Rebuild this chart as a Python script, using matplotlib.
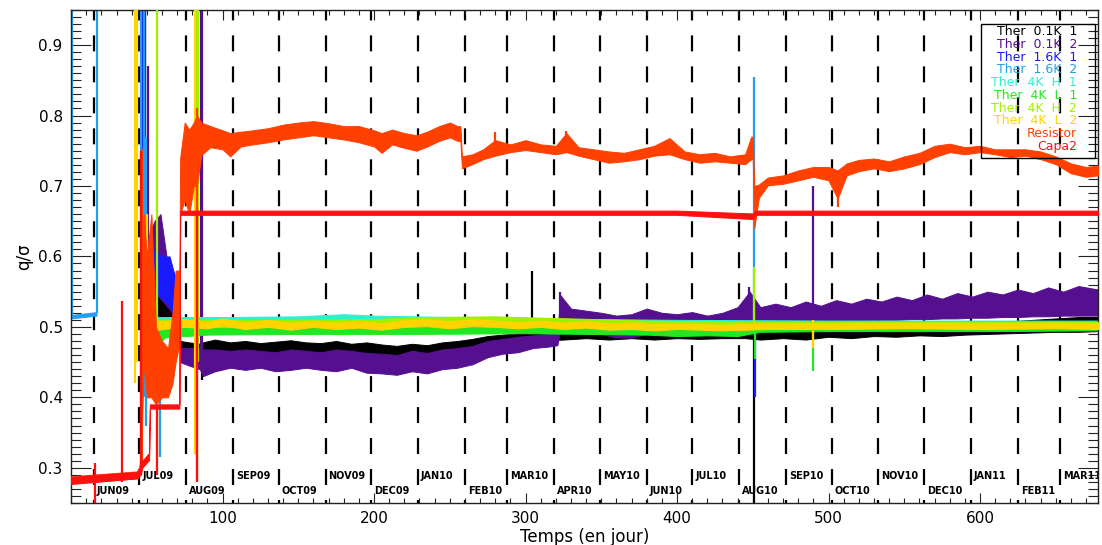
import matplotlib
matplotlib.use('Agg')
import matplotlib.pyplot as plt
from matplotlib.ticker import MultipleLocator
from matplotlib.patches import Rectangle

plt.rcParams['lines.scale_dashes'] = False

# ---------------------------------------------------------------
# data (day, lower edge, upper edge of the noise band)
# ---------------------------------------------------------------
BLACK_DAYS = [47, 50, 55, 60, 65, 70, 71.5, 72, 78, 85, 87, 95, 105, 115, 125, 135, 145, 155, 165, 175, 185, 195,
              205, 215, 225, 235, 245, 255, 265, 275, 285, 295, 305, 315, 325, 340, 355, 370, 385, 400, 415, 430,
              445, 455, 470, 485, 500, 515, 530, 545, 560, 575, 590, 605, 620, 635, 650, 665, 678]
BLACK_LO = [0.50, 0.50, 0.51, 0.50, 0.50, 0.50, 0.50, 0.46, 0.465, 0.462, 0.445, 0.455, 0.458, 0.455, 0.458, 0.453,
            0.458, 0.456, 0.453, 0.458, 0.455, 0.453, 0.451, 0.453, 0.455, 0.458, 0.461, 0.463, 0.466, 0.470, 0.473,
            0.477, 0.479, 0.481, 0.482, 0.484, 0.482, 0.484, 0.482, 0.484, 0.483, 0.484, 0.484, 0.482, 0.484, 0.482,
            0.486, 0.484, 0.487, 0.486, 0.488, 0.487, 0.489, 0.490, 0.491, 0.492, 0.493, 0.493, 0.494]
BLACK_HI = [0.56, 0.56, 0.58, 0.55, 0.56, 0.53, 0.53, 0.48, 0.478, 0.476, 0.478, 0.482, 0.478, 0.480, 0.477, 0.479,
            0.481, 0.478, 0.477, 0.480, 0.476, 0.478, 0.475, 0.473, 0.476, 0.474, 0.478, 0.480, 0.483, 0.487, 0.489,
            0.491, 0.493, 0.494, 0.495, 0.494, 0.495, 0.495, 0.494, 0.495, 0.494, 0.495, 0.496, 0.496, 0.497, 0.497,
            0.498, 0.498, 0.500, 0.500, 0.501, 0.503, 0.505, 0.507, 0.508, 0.510, 0.512, 0.514, 0.514]

PURPLE_DAYS = [50, 55, 59, 63, 67, 71, 71.5, 72, 78, 85, 87, 95, 105, 115, 125, 135, 145, 155, 165, 175, 185, 195,
               205, 215, 225, 235, 245, 255, 265, 275, 285, 295, 305, 315, 321, 323, 330, 340, 350, 360, 370, 380,
               390, 400, 410, 420, 430, 440, 448, 455, 465, 475, 485, 495, 505, 515, 525, 535, 545, 555, 565, 575,
               585, 595, 605, 615, 625, 635, 645, 655, 665, 678]
PURPLE_LO = [0.54, 0.55, 0.54, 0.53, 0.52, 0.50, 0.50, 0.45, 0.445, 0.44, 0.43, 0.437, 0.442, 0.439, 0.442, 0.437,
             0.439, 0.442, 0.439, 0.437, 0.442, 0.435, 0.434, 0.432, 0.437, 0.434, 0.440, 0.442, 0.447, 0.457, 0.462,
             0.464, 0.470, 0.472, 0.474, 0.50, 0.50, 0.495, 0.49, 0.485, 0.485, 0.49, 0.49, 0.49, 0.49, 0.49, 0.49,
             0.492, 0.495, 0.505, 0.508, 0.508, 0.508, 0.508, 0.508, 0.509, 0.509, 0.510, 0.510, 0.511, 0.511,
             0.512, 0.512, 0.513, 0.513, 0.514, 0.514, 0.515, 0.515, 0.516, 0.516, 0.516]
PURPLE_HI = [0.62, 0.65, 0.66, 0.60, 0.58, 0.56, 0.56, 0.47, 0.47, 0.47, 0.468, 0.468, 0.466, 0.468, 0.466, 0.464,
             0.468, 0.466, 0.464, 0.468, 0.466, 0.463, 0.462, 0.460, 0.466, 0.463, 0.468, 0.470, 0.473, 0.480, 0.483,
             0.486, 0.488, 0.490, 0.492, 0.545, 0.526, 0.523, 0.520, 0.516, 0.518, 0.526, 0.520, 0.518, 0.521, 0.516,
             0.520, 0.528, 0.55, 0.528, 0.533, 0.528, 0.536, 0.530, 0.538, 0.533, 0.540, 0.536, 0.543, 0.538, 0.546,
             0.540, 0.548, 0.543, 0.550, 0.546, 0.553, 0.548, 0.556, 0.550, 0.558, 0.553]

BLUE_DAYS = [50, 55, 60, 65, 70, 72, 100, 200, 300, 400, 500, 600, 678]
BLUE_LO = [0.53, 0.55, 0.54, 0.53, 0.50, 0.500, 0.501, 0.501, 0.501, 0.500, 0.500, 0.500, 0.500]
BLUE_HI = [0.61, 0.61, 0.60, 0.60, 0.56, 0.510, 0.509, 0.509, 0.508, 0.507, 0.507, 0.507, 0.507]

LBLUE_DAYS = [0, 16.8, 16.9, 45.9, 46, 50, 60, 100, 200, 300, 400, 500, 600, 678]
LBLUE_LO = [0.512, 0.516, 0.99, 0.99, 0.49, 0.49, 0.497, 0.500, 0.500, 0.500, 0.499, 0.499, 0.499, 0.499]
LBLUE_HI = [0.517, 0.521, 1.00, 1.00, 0.51, 0.51, 0.508, 0.509, 0.509, 0.507, 0.506, 0.506, 0.506, 0.506]

CYAN_DAYS = [48, 60, 100, 150, 180, 200, 250, 300, 400, 500, 600, 678]
CYAN_LO = [0.495, 0.503, 0.504, 0.505, 0.507, 0.505, 0.504, 0.503, 0.503, 0.503, 0.503, 0.503]
CYAN_HI = [0.515, 0.514, 0.514, 0.515, 0.518, 0.516, 0.514, 0.512, 0.510, 0.509, 0.509, 0.509]

GREEN_DAYS = [48, 52, 58, 62, 90, 150, 230, 300, 380, 400, 420, 440, 455, 500, 600, 678]
GREEN_LO = [0.48, 0.475, 0.476, 0.485, 0.489, 0.490, 0.490, 0.491, 0.489, 0.487, 0.488, 0.487, 0.493, 0.494, 0.494, 0.495]
GREEN_HI = [0.50, 0.49, 0.492, 0.500, 0.500, 0.500, 0.500, 0.500, 0.498, 0.496, 0.497, 0.496, 0.501, 0.501, 0.501, 0.502]

YGREEN_DAYS = [48, 60, 100, 150, 200, 230, 280, 330, 380, 450, 500, 600, 678]
YGREEN_LO = [0.49, 0.500, 0.500, 0.500, 0.501, 0.503, 0.503, 0.502, 0.500, 0.499, 0.499, 0.499, 0.499]
YGREEN_HI = [0.51, 0.510, 0.510, 0.510, 0.511, 0.514, 0.515, 0.512, 0.509, 0.507, 0.507, 0.507, 0.507]

GOLD_DAYS = [48, 60, 75, 90, 100, 115, 130, 145, 160, 175, 190, 205, 220, 235, 250, 265, 280, 295, 310, 325, 340,
             355, 370, 385, 400, 415, 430, 445, 460, 500, 550, 600, 650, 678]
GOLD_LO = [0.490, 0.497, 0.500, 0.498, 0.502, 0.497, 0.500, 0.496, 0.500, 0.497, 0.499, 0.496, 0.500, 0.501, 0.498,
           0.501, 0.500, 0.498, 0.500, 0.497, 0.499, 0.496, 0.497, 0.495, 0.497, 0.496, 0.495, 0.496, 0.497, 0.497,
           0.498, 0.497, 0.498, 0.497]
GOLD_HI = [0.510, 0.508, 0.511, 0.507, 0.512, 0.506, 0.510, 0.506, 0.509, 0.506, 0.509, 0.505, 0.510, 0.511, 0.508,
           0.511, 0.509, 0.507, 0.509, 0.506, 0.508, 0.505, 0.506, 0.504, 0.505, 0.504, 0.503, 0.504, 0.505, 0.505,
           0.506, 0.505, 0.506, 0.505]

ORANGE_DAYS = [0, 44, 46, 48, 50, 53, 56, 60, 64, 67, 69, 71, 71.5, 72, 75, 78, 81, 83, 86, 92, 100, 105, 112, 120,
               130, 140, 150, 160, 170, 180, 190, 200, 205, 212, 220, 228, 235, 243, 250, 255, 257, 258, 265, 272,
               280, 290, 300, 310, 320, 327, 335, 345, 355, 365, 375, 385, 395, 405, 415, 425, 435, 445, 449, 450,
               451, 454, 460, 470, 480, 490, 500, 506, 512, 520, 530, 540, 550, 560, 570, 580, 590, 600, 610, 620,
               630, 640, 650, 660, 670, 678]
ORANGE_LO = [0.278, 0.285, 0.30, 0.45, 0.40, 0.40, 0.39, 0.40, 0.40, 0.42, 0.45, 0.47, 0.47, 0.66, 0.68, 0.66,
             0.70, 0.70, 0.744, 0.755, 0.752, 0.742, 0.756, 0.759, 0.762, 0.766, 0.769, 0.772, 0.769, 0.766, 0.762,
             0.756, 0.747, 0.759, 0.754, 0.750, 0.756, 0.764, 0.769, 0.764, 0.764, 0.725, 0.731, 0.738, 0.743,
             0.748, 0.751, 0.748, 0.745, 0.748, 0.743, 0.738, 0.733, 0.735, 0.738, 0.743, 0.745, 0.738, 0.733,
             0.735, 0.733, 0.731, 0.738, 0.738, 0.640, 0.683, 0.701, 0.703, 0.708, 0.713, 0.708, 0.682, 0.715,
             0.721, 0.725, 0.721, 0.725, 0.731, 0.741, 0.748, 0.745, 0.748, 0.745, 0.741, 0.743, 0.738, 0.731,
             0.718, 0.713, 0.715]
ORANGE_HI = [0.288, 0.295, 0.31, 0.66, 0.60, 0.66, 0.50, 0.48, 0.47, 0.52, 0.58, 0.58, 0.58, 0.74, 0.79, 0.78,
             0.79, 0.80, 0.79, 0.785, 0.779, 0.775, 0.777, 0.779, 0.782, 0.787, 0.790, 0.792, 0.789, 0.785, 0.785,
             0.779, 0.775, 0.780, 0.775, 0.772, 0.777, 0.785, 0.790, 0.785, 0.785, 0.742, 0.745, 0.752, 0.765,
             0.759, 0.765, 0.759, 0.757, 0.775, 0.755, 0.752, 0.749, 0.747, 0.752, 0.757, 0.768, 0.749, 0.745,
             0.747, 0.742, 0.745, 0.770, 0.770, 0.700, 0.702, 0.712, 0.715, 0.722, 0.727, 0.727, 0.722, 0.732,
             0.737, 0.739, 0.735, 0.742, 0.747, 0.757, 0.760, 0.755, 0.757, 0.752, 0.752, 0.752, 0.749, 0.742,
             0.732, 0.727, 0.729]

RED_DAYS = [0, 43, 46, 47, 51, 51.5, 52, 71.5, 72, 200, 400, 450, 452, 678]
RED_LO = [0.277, 0.285, 0.29, 0.30, 0.31, 0.31, 0.384, 0.384, 0.659, 0.659, 0.659, 0.653, 0.659, 0.659]
RED_HI = [0.287, 0.294, 0.30, 0.31, 0.32, 0.32, 0.390, 0.390, 0.665, 0.665, 0.665, 0.661, 0.665, 0.665]

# isolated vertical glitches: series index, day, from, to
SPIKE_SERIES = [0, 0, 0, 0, 0,
                1, 1, 1, 1, 1, 1, 1, 1,
                2, 2, 2,
                3, 3, 3, 3, 3, 3, 3,
                5, 5,
                6, 6, 6, 6,
                7, 7, 7, 7, 7,
                8, 8, 8, 8, 8,
                9, 9, 9, 9, 9]
SPIKE_DAY = [47, 48.5, 86.3, 304, 451,
             46.5, 49, 50.5, 85.5, 86.5, 489.5, 322.5, 447.5,
             46.5, 48, 451.5,
             0.3, 16.8, 46, 48, 49.5, 58.7, 451,
             451.3, 489.5,
             56.5, 82.5, 83.5, 450.7,
             42.5, 43.5, 50, 82, 489.5,
             46.5, 83, 280, 327, 506,
             15.5, 33.8, 46, 56.5, 83]
SPIKE_LO = [0.50, 0.52, 0.425, 0.49, 0.20,
            0.60, 0.55, 0.60, 0.44, 0.45, 0.52, 0.50, 0.50,
            0.50, 0.50, 0.40,
            0.515, 0.52, 0.30, 0.40, 0.36, 0.315, 0.50,
            0.455, 0.438,
            0.315, 0.32, 0.45, 0.50,
            0.42, 0.45, 0.60, 0.32, 0.47,
            0.30, 0.28, 0.75, 0.75, 0.67,
            0.20, 0.28, 0.29, 0.29, 0.28]
SPIKE_HI = [1.0, 1.0, 0.47, 0.58, 0.49,
            1.0, 1.0, 0.87, 1.0, 1.0, 0.70, 0.55, 0.556,
            1.0, 1.0, 0.50,
            1.0, 1.0, 1.0, 0.95, 0.77, 0.50, 0.855,
            0.50, 0.50,
            1.0, 1.0, 1.0, 0.585,
            1.0, 1.0, 0.66, 1.0, 0.51,
            0.752, 0.81, 0.776, 0.778, 0.72,
            0.307, 0.537, 0.75, 0.385, 0.66]

LABELS = ['Ther  0.1K  1', 'Ther  0.1K  2', 'Ther  1.6K  1', 'Ther  1.6K  2', 'Ther  4K  H  1',
          'Ther  4K  L  1', 'Ther  4K  H  2', 'Ther  4K  L  2', 'Resistor', 'Capa2']
COLORS = ['#000000', '#55108f', '#1a1aff', '#22a0f0', '#2ef0d0',
          '#22e822', '#a0f000', '#ffd400', '#ff4000', '#ff1010']

MONTHS = ['JUN09', 'JUL09', 'AUG09', 'SEP09', 'OCT09', 'NOV09', 'DEC09', 'JAN10', 'FEB10', 'MAR10', 'APR10',
          'MAY10', 'JUN10', 'JUL10', 'AUG10', 'SEP10', 'OCT10', 'NOV10', 'DEC10', 'JAN11', 'FEB11', 'MAR11']
MONTH_DAYS = [15, 45, 76, 107, 137, 168, 198, 229, 260, 288, 319, 349, 380, 410, 441, 472, 502, 533, 563, 594,
              625, 653]

bands = [(BLACK_DAYS, BLACK_LO, BLACK_HI), (PURPLE_DAYS, PURPLE_LO, PURPLE_HI), (BLUE_DAYS, BLUE_LO, BLUE_HI),
         (LBLUE_DAYS, LBLUE_LO, LBLUE_HI), (CYAN_DAYS, CYAN_LO, CYAN_HI), (GREEN_DAYS, GREEN_LO, GREEN_HI),
         (YGREEN_DAYS, YGREEN_LO, YGREEN_HI), (GOLD_DAYS, GOLD_LO, GOLD_HI), (ORANGE_DAYS, ORANGE_LO, ORANGE_HI),
         (RED_DAYS, RED_LO, RED_HI)]

fig = plt.figure(figsize=(11.02, 5.45), dpi=100)
ax = fig.add_axes([0.0645, 0.077, 0.932, 0.905])

# month boundaries
for d in MONTH_DAYS:
    ax.plot([d, d], [0.95, 0.25], color='black', lw=1.6, linestyle=(4.0, (11.5, 10.8)), zorder=1)

# series, drawn in legend order so the later ones sit on top
for i, (days, lo, hi) in enumerate(bands):
    z = 2 + i * 0.1
    ax.fill_between(days, lo, hi, color=COLORS[i], lw=0.7, edgecolor=COLORS[i], zorder=z)
    for s, d, y0, y1 in zip(SPIKE_SERIES, SPIKE_DAY, SPIKE_LO, SPIKE_HI):
        if s == i:
            ax.plot([d, d], [y0, y1], color=COLORS[i], lw=1.6, zorder=z + 0.05,
                    solid_capstyle='butt')

# month labels, alternating rows
for i, (m, d) in enumerate(zip(MONTHS, MONTH_DAYS)):
    y = 0.267 if i % 2 == 0 else 0.288
    ax.text(d + 2.0, y, m, fontsize=7, fontweight='bold', va='center', ha='left', zorder=10,
            clip_on=True)

ax.set_xlim(0, 678)
ax.set_ylim(0.25, 0.95)
ax.xaxis.set_major_locator(MultipleLocator(100))
ax.xaxis.set_minor_locator(MultipleLocator(10))
ax.yaxis.set_major_locator(MultipleLocator(0.1))
ax.yaxis.set_minor_locator(MultipleLocator(0.01))
ax.yaxis.set_major_formatter(plt.FuncFormatter(lambda v, p: f'{v:.1f}'))
ax.tick_params(which='both', direction='in', top=True, right=True, width=0.8, colors='#222222',
               labelsize=11, labelcolor='black')
ax.tick_params(axis='y', which='major', length=14.5, pad=6)
ax.tick_params(axis='y', which='minor', length=7.2)
ax.tick_params(axis='x', which='major', length=7.2, pad=6)
ax.tick_params(axis='x', which='minor', length=3.6)
ax.xaxis.set_major_formatter(plt.FuncFormatter(lambda v, p: '' if v == 0 else f'{v:.0f}'))
for sp in ax.spines.values():
    sp.set_linewidth(1.0)
    sp.set_color('#222222')

ax.set_xlabel('Temps (en jour)', fontsize=12, labelpad=1)
ax.set_ylabel('q/σ', fontsize=12, labelpad=4)

# legend: coloured right-aligned text in an open box
ax.add_patch(Rectangle((0.886, 0.70), 0.1105, 0.2716, transform=ax.transAxes, fill=False,
                       lw=1.0, edgecolor='black', zorder=11))
for i, lab in enumerate(LABELS):
    ax.text(0.9796, 0.956 - i * 0.0259, lab, transform=ax.transAxes, color=COLORS[i], fontsize=9,
            ha='right', va='center', zorder=12)

fig.savefig('out.png', dpi=100)
